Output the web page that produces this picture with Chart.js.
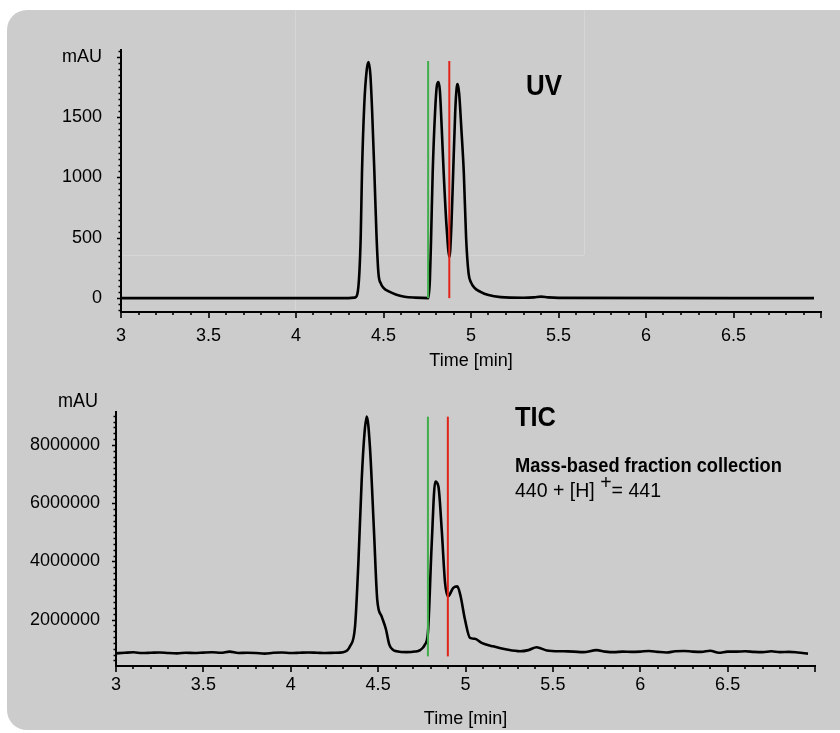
<!DOCTYPE html>
<html><head><meta charset="utf-8">
<script src="https://cdn.jsdelivr.net/npm/chart.js@4/dist/chart.umd.min.js"></script>
<style>
html,body{margin:0;padding:0;background:#fff;}
#wrap{position:relative;width:840px;height:733px;overflow:hidden;}
#bg{position:absolute;left:7px;top:10px;width:870px;height:720px;background:#cccccc;border-radius:20px;}
.fl{position:absolute;background:#d6d6d6;}
canvas{position:absolute;left:0;top:0;}
.t{position:absolute;white-space:nowrap;color:#000;font-family:'Liberation Sans',Arial,sans-serif;line-height:1;transform-origin:0 0;}
</style></head><body>
<div id="wrap">
<div id="bg"></div>
<div class="fl" style="left:295px;top:10px;width:1px;height:302px"></div>
<div class="fl" style="left:584px;top:10px;width:1px;height:245px"></div>
<div class="fl" style="left:122px;top:255px;width:462px;height:1px"></div>
<canvas id="c1" width="840" height="733"></canvas>
<canvas id="c2" width="840" height="733"></canvas>
<div class="t" data-w="36" style="left:526px;top:69.6px;font-size:30px;font-weight:bold">UV</div>
<div class="t" data-w="41" style="left:515px;top:403.3px;font-size:28px;font-weight:bold">TIC</div>
<div class="t" data-w="267" style="left:515px;top:455px;font-size:20px;font-weight:bold">Mass-based fraction collection</div>
<div class="t" data-w="146" style="left:515px;top:480px;font-size:20px">440 + [H] <span style="position:relative;top:-8px">+</span>= 441</div>
<div class="t" data-w="40" style="left:58px;top:390px;font-size:20px">mAU</div>
</div>
<script>
const FONT = "'Liberation Sans', Arial, sans-serif";

// UV chromatogram (time in min, signal in mAU)
const uvTime = [3.00, 4.30, 4.335, 4.35, 4.362, 4.37, 4.377, 4.39, 4.405, 4.415, 4.425, 4.435, 4.448, 4.46, 4.471, 4.485, 4.50, 4.53, 4.57, 4.62, 4.68, 4.757, 4.765, 4.772, 4.781, 4.795, 4.805, 4.814, 4.822, 4.833, 4.844, 4.86, 4.877, 4.888, 4.898, 4.91, 4.918, 4.923, 4.932, 4.945, 4.959, 4.972, 4.986, 5.00, 5.02, 5.054, 5.10, 5.17, 5.30, 5.36, 5.40, 5.44, 5.50, 6.96];
const uvSignal = [0, 0, 4, 30, 207, 520, 1035, 1600, 1900, 1956, 1850, 1550, 1035, 520, 207, 120, 85, 55, 30, 12, 4, 0, 150, 500, 1035, 1550, 1760, 1790, 1720, 1400, 1035, 600, 340, 600, 1035, 1550, 1740, 1773, 1700, 1400, 1035, 500, 207, 130, 85, 52, 25, 8, 3, 6, 12, 6, 2, 0];

// TIC chromatogram
const ticTime = [3.00, 3.05, 3.10, 3.15, 3.20, 3.25, 3.30, 3.35, 3.40, 3.45, 3.50, 3.55, 3.60, 3.65, 3.70, 3.75, 3.80, 3.85, 3.90, 3.95, 4.00, 4.05, 4.10, 4.15, 4.20, 4.25, 4.30, 4.339, 4.368, 4.387, 4.406, 4.422, 4.435, 4.453, 4.476, 4.495, 4.52, 4.545, 4.564, 4.585, 4.606, 4.663, 4.71, 4.74, 4.768, 4.785, 4.806, 4.827, 4.845, 4.864, 4.883, 4.90, 4.93, 4.953, 4.972, 4.997, 5.026, 5.054, 5.092, 5.158, 5.236, 5.312, 5.36, 5.407, 5.465, 5.56, 5.62, 5.674, 5.75, 5.80, 5.85, 5.90, 5.95, 6.00, 6.05, 6.10, 6.15, 6.20, 6.25, 6.30, 6.35, 6.40, 6.45, 6.50, 6.55, 6.60, 6.65, 6.70, 6.75, 6.80, 6.85, 6.90, 6.96];
const ticSignal = [840000, 860000, 875000, 850000, 860000, 870000, 850000, 840000, 860000, 850000, 865000, 875000, 860000, 900000, 850000, 860000, 850000, 830000, 860000, 870000, 850000, 860000, 870000, 860000, 850000, 860000, 880000, 1080000, 1770000, 3950000, 6800000, 8400000, 8970000, 7940000, 5080000, 2680000, 2110000, 1660000, 1140000, 960000, 910000, 880000, 900000, 950000, 1140000, 1550000, 4510000, 6740000, 6570000, 5080000, 3260000, 2800000, 3090000, 3140000, 2800000, 2000000, 1370000, 1340000, 1200000, 1080000, 970000, 910000, 950000, 1050000, 940000, 910000, 900000, 880000, 950000, 900000, 880000, 900000, 890000, 900000, 920000, 890000, 870000, 910000, 920000, 900000, 890000, 930000, 860000, 900000, 900000, 910000, 890000, 880000, 910000, 880000, 890000, 870000, 830000];

// fraction collection window (start = green, end = red)
const uvWindow = [4.755, 4.876];
const uvWindowSpan = [0, 1964];
const ticWindow = [4.785, 4.899];
const ticWindowSpan = [735000, 8970000];

// tick labels
const xTickValues = [3, 3.5, 4, 4.5, 5, 5.5, 6, 6.5, 7];
const uvYTickValues = [0, 500, 1000, 1500, 2000];
const ticYTickValues = [2000000, 4000000, 6000000, 8000000];

Chart.defaults.font.family = FONT;
Chart.defaults.color = '#000';

const pts = (xs, ys) => xs.map((x, i) => ({x, y: ys[i]}));
const vline = (t, span) => [{x: t, y: span[0]}, {x: t, y: span[1]}];

const tickPlugin = {
  id: 'minorTicks',
  afterDraw(chart, args, o) {
    const {ctx, chartArea: a, scales: {x, y}} = chart;
    ctx.save();
    ctx.strokeStyle = '#000';
    ctx.lineWidth = 1.6;
    ctx.beginPath();
    const nx = Math.round((x.max - x.min) / o.xMinor);
    for (let i = 0; i <= nx; i++) {
      const v = x.min + i * o.xMinor;
      const r = v / o.xMajor;
      const major = Math.abs(r - Math.round(r)) < 1e-6;
      const px = Math.round(x.getPixelForValue(v));
      ctx.moveTo(px, a.bottom);
      ctx.lineTo(px, a.bottom + (major ? o.xMajorLen : o.xMinorLen));
    }
    const start = Math.ceil(y.min / o.yMinor) * o.yMinor;
    for (let v = start; v <= y.max + 1e-9; v += o.yMinor) {
      const r = v / o.yMajor;
      const major = Math.abs(r - Math.round(r)) < 1e-6;
      const py = Math.round(y.getPixelForValue(v)) + 0.5;
      ctx.moveTo(a.left, py);
      ctx.lineTo(a.left - (major ? o.yMajorLen : o.yMinorLen), py);
    }
    ctx.stroke();
    ctx.restore();
  }
};

function makeChart(id, cfg) {
  const lineDs = {
    data: pts(cfg.time, cfg.signal), borderColor: '#000', borderWidth: 2.6,
    pointRadius: 0, cubicInterpolationMode: 'monotone', fill: false
  };
  const g = {data: vline(cfg.win[0], cfg.span), borderColor: '#3fae49', borderWidth: 2, pointRadius: 0};
  const r = {data: vline(cfg.win[1], cfg.span), borderColor: '#e2231a', borderWidth: 2, pointRadius: 0};
  return new Chart(document.getElementById(id), {
    type: 'line',
    data: {datasets: [r, g, lineDs]},
    options: {
      responsive: false, animation: false, devicePixelRatio: 1,
      layout: {padding: cfg.padding},
      plugins: {legend: {display: false}, tooltip: {enabled: false}, minorTicks: cfg.ticks},
      scales: {
        x: {
          type: 'linear', min: 3, max: 7,
          afterFit: s => { s.height = cfg.xH; },
          afterBuildTicks: s => { s.ticks = xTickValues.map(v => ({value: v})); },
          ticks: {padding: cfg.xPad, font: {size: 18}, maxRotation: 0, autoSkip: false,
                  callback: v => v === 7 ? '' : String(v)},
          grid: {display: false, drawTicks: false},
          border: {display: true, color: '#000', width: 2},
          title: {display: true, text: 'Time [min]', font: {size: 18}, padding: {top: 0, bottom: 0}}
        },
        y: {
          type: 'linear', min: cfg.yMin, max: cfg.yMax,
          afterFit: s => { s.width = cfg.yW; },
          afterBuildTicks: s => { s.ticks = cfg.yTicks.map(v => ({value: v})); },
          ticks: {padding: cfg.yPad, font: {size: 18}, autoSkip: false, callback: cfg.yLabel},
          grid: {display: false, drawTicks: false},
          border: {display: true, color: '#000', width: 2}
        }
      }
    },
    plugins: [tickPlugin]
  });
}

makeChart('c1', {
  time: uvTime, signal: uvSignal, win: uvWindow, span: uvWindowSpan,
  padding: {top: 50, left: 0, right: 19, bottom: 361},
  xH: 60, xPad: 13, yW: 121, yPad: 19, yMin: -115, yMax: 2055, yTicks: uvYTickValues,
  yLabel: v => v === 2000 ? 'mAU' : String(v),
  ticks: {xMinor: 0.1, xMajor: 0.5, xMajorLen: 6, xMinorLen: 3, yMinor: 50, yMajor: 500, yMajorLen: 4, yMinorLen: 2.5}
});

makeChart('c2', {
  time: ticTime, signal: ticSignal, win: ticWindow, span: ticWindowSpan,
  padding: {top: 412, left: 0, right: 25, bottom: 3},
  xH: 64, xPad: 8, yW: 116, yPad: 16, yMin: 405000, yMax: 9130000, yTicks: ticYTickValues,
  yLabel: v => String(v),
  ticks: {xMinor: 0.1, xMajor: 0.5, xMajorLen: 6, xMinorLen: 3, yMinor: 200000, yMajor: 2000000, yMajorLen: 4, yMinorLen: 2.5}
});

// condense annotation text to the reference's narrow typeface widths
document.querySelectorAll('.t[data-w]').forEach(el => {
  const w = el.getBoundingClientRect().width;
  const target = parseFloat(el.dataset.w);
  if (w > 0) el.style.transform = 'scaleX(' + (target / w).toFixed(3) + ')';
});
</script>
</body></html>
